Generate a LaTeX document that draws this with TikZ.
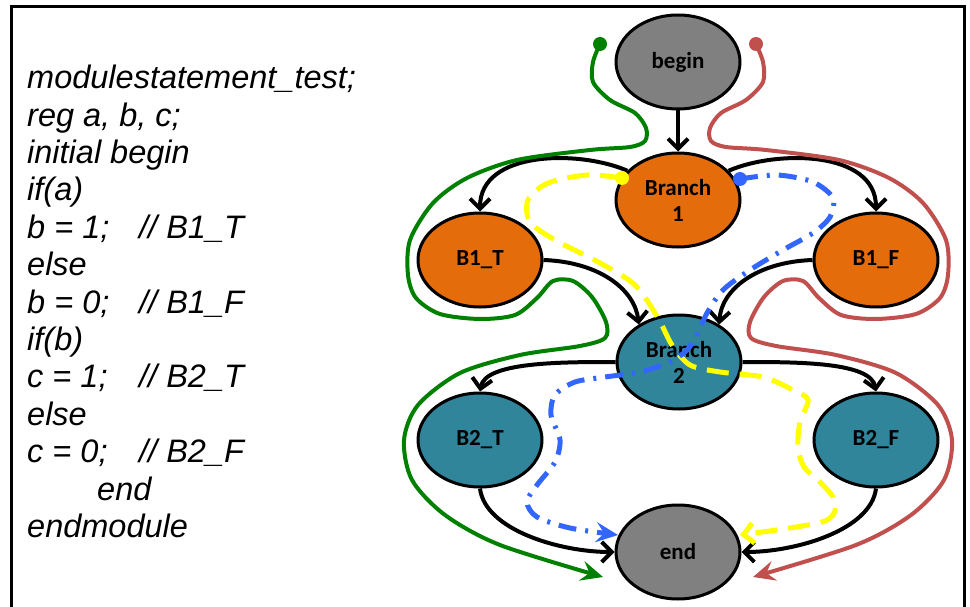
\documentclass[tikz,border=0pt]{standalone}
\usepackage{fontspec}
\setmainfont{Liberation Sans}
\newfontfamily\nodefont{Carlito}
\usetikzlibrary{arrows.meta,shapes.geometric}
\definecolor{cfggray}{RGB}{128,128,128}
\definecolor{cfgorange}{RGB}{228,108,10}
\definecolor{cfgteal}{RGB}{49,133,155}
\definecolor{pathgreen}{RGB}{0,128,0}
\definecolor{pathred}{RGB}{192,80,77}
\definecolor{pathyellow}{RGB}{255,255,0}
\definecolor{pathblue}{RGB}{51,102,255}

\begin{document}
\begin{tikzpicture}[
  x=1pt, y=-1pt,
  statebox/.style={ellipse,draw,line width=3pt,minimum width=124pt,minimum height=94pt,
                   inner sep=0pt,align=center,font=\nodefont\bfseries\fontsize{23}{26}\selectfont},
  flow/.style={line width=4pt,-{Straight Barb[length=10pt,width=20pt]}},
  greenpath/.style={pathgreen,line width=4pt,-{Stealth[length=22pt,width=20pt,inset=8pt]}},
  redpath/.style={pathred,line width=4pt,-{Stealth[length=22pt,width=20pt,inset=8pt]}},
  yellowpath/.style={pathyellow,line width=5pt,dash pattern=on 22pt off 11pt,
                     -{Straight Barb[length=10pt,width=20pt]}},
  bluepath/.style={pathblue,line width=5pt,dash pattern=on 18pt off 9pt on 3pt off 9pt,
                   -{Stealth[length=22pt,width=20pt,inset=8pt]}},
]
  \useasboundingbox (0,0) rectangle (970,607);
  % frame
  \draw[line width=3pt] (11.5,620) -- (11.5,7) -- (964,7) -- (964,620);

  % Verilog source
  \node[anchor=north west,inner sep=0pt,align=left,
        font=\itshape\fontsize{32.5}{37.4}\selectfont] (code) at (27,65) {%
    modulestatement\_test;\\
    reg a, b, c;\\
    initial begin\\
    if(a)\\
    \makebox[112pt][l]{b = 1;}// B1\_T\\
    else\\
    \makebox[112pt][l]{b = 0;}// B1\_F\\
    if(b)\\
    \makebox[112pt][l]{c = 1;}// B2\_T\\
    else\\
    \makebox[112pt][l]{c = 0;}// B2\_F\\
    \hspace*{70pt}end\\
    endmodule};

  % CFG nodes
  \node[statebox,fill=cfggray] (begin) at (678,62) {begin};
  \node[statebox,fill=cfgorange] (br1) at (678,200) {Branch\\1};
  \node[statebox,fill=cfgorange] (b1t) at (480,260) {B1\_T};
  \node[statebox,fill=cfgorange] (b1f) at (876,260) {B1\_F};
  \node[statebox,fill=cfgteal] (br2) at (679,362) {Branch\\2};
  \node[statebox,fill=cfgteal] (b2t) at (480,440) {B2\_T};
  \node[statebox,fill=cfgteal] (b2f) at (876,440) {B2\_F};
  \node[statebox,fill=cfggray] (end) at (678,552) {end};

  % CFG edges
  \draw[flow] (begin) -- (br1);
  \draw[flow] (br1.150) .. controls (580,150) and (480,150) .. (b1t.north);
  \draw[flow] (br1.30) .. controls (776,150) and (876,150) .. (b1f.north);
  \draw[flow] (b1t.east) .. controls (600,262) and (635,290) .. (br2.137);
  \draw[flow] (b1f.west) .. controls (756,262) and (721,290) .. (br2.43);
  \draw[flow] (br2.west) .. controls (560,362) and (485,362) .. (b2t.north);
  \draw[flow] (br2.east) .. controls (798,362) and (871,362) .. (b2f.north);
  \draw[flow] (b2t.south) .. controls (485,530) and (560,552) .. (end.west);
  \draw[flow] (b2f.south) .. controls (871,530) and (796,552) .. (end.east);

  % test paths
  \coordinate (gstart) at (600,44);
  \coordinate (gend) at (603,577);
  \coordinate (rstart) at (756,44);
  \coordinate (rend) at (753,577);
  \coordinate (ystart) at (622,178);
  \coordinate (yend) at (740,535);
  \coordinate (bstart) at (740,179);
  \coordinate (bend) at (618,535);

  \draw[greenpath] plot[smooth] coordinates {(gstart) (593,62) (593,82) (610,100) (635,113)
    (646,128) (645,141) (630,147) (590,150) (517,160) (467,178) (433,203) (410,240) (408,275)
    (416,298) (440,314) (480,319) (515,315) (537,298) (553,281) (573,281) (592,297) (606,322)
    (605,338) (580,346) (520,355) (460,373) (418,405) (404,440) (412,480) (445,515) (500,545)
    (gend)};
  \fill[pathgreen] (gstart) circle[radius=7pt];

  \draw[redpath] plot[smooth] coordinates {(rstart) (763,62) (763,82) (746,100) (721,113)
    (710,128) (711,141) (726,147) (766,150) (839,160) (889,178) (923,203) (946,240) (948,275)
    (940,298) (916,314) (876,319) (841,315) (819,298) (803,281) (783,281) (764,297) (750,322)
    (751,338) (776,346) (836,355) (896,373) (938,405) (952,440) (944,480) (911,515) (856,545)
    (rend)};
  \fill[pathred] (rstart) circle[radius=7pt];

  \draw[yellowpath] plot[smooth] coordinates {(ystart) (587,175) (548,183) (528,200) (530,222)
    (555,240) (600,263) (635,285) (658,318) (672,345) (690,365) (720,372) (763,377) (793,390)
    (808,400) (800,422) (798,447) (804,467) (820,482) (833,497) (835,511) (825,521) (790,528)
    (yend)};
  \fill[pathyellow] (ystart) circle[radius=7pt];

  \draw[bluepath] plot[smooth] coordinates {(bstart) (777,175) (813,182) (833,198) (830,217)
    (813,233) (783,250) (750,270) (723,290) (707,313) (697,335) (687,350) (670,362) (640,372)
    (605,377) (575,382) (555,395) (551,415) (560,440) (555,462) (537,485) (527,502) (537,517)
    (570,528) (bend)};
  \fill[pathblue] (bstart) circle[radius=7pt];
\end{tikzpicture}
\end{document}
